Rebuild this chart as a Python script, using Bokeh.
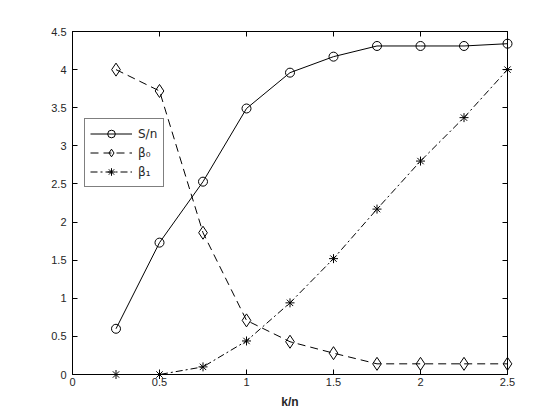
from bokeh.plotting import figure
from bokeh.models import LinearAxis, Range1d, FixedTicker, CustomJSTickFormatter, Legend
from bokeh.embed import file_html
from bokeh.resources import INLINE

k_n = [0.25, 0.5, 0.75, 1.0, 1.25, 1.5, 1.75, 2.0, 2.25, 2.5]
s_n = [0.60, 1.73, 2.53, 3.49, 3.96, 4.17, 4.31, 4.31, 4.31, 4.34]
beta0 = [4.00, 3.72, 1.86, 0.71, 0.43, 0.28, 0.14, 0.14, 0.14, 0.14]
beta1 = [0.00, 0.00, 0.10, 0.44, 0.94, 1.52, 2.17, 2.80, 3.37, 4.00]
x_ticks = [0, 0.5, 1, 1.5, 2, 2.5]
y_ticks = [0, 0.5, 1, 1.5, 2, 2.5, 3, 3.5, 4, 4.5]
x_label = "k/n"
labels = ["S/n", "\u03b2\u2080", "\u03b2\u2081"]

FONT = "Liberation Sans"

p = figure(width=552, height=412, output_backend="svg", toolbar_location=None,
           x_range=Range1d(0, 2.5), y_range=Range1d(0, 4.5),
           min_border_left=72, min_border_right=45, min_border_top=31, min_border_bottom=38)
p.background_fill_color = "white"
p.border_fill_color = "white"
p.outline_line_color = "black"
p.outline_line_width = 1
p.xgrid.visible = False
p.ygrid.visible = False

fmt = CustomJSTickFormatter(code="return String(Math.round(tick*100)/100);")

def style_axis(ax, ticks, show_labels=True):
    ax.ticker = FixedTicker(ticks=ticks)
    ax.formatter = fmt
    ax.axis_line_color = "black"
    ax.major_tick_line_color = "black"
    ax.major_tick_in = 5
    ax.major_tick_out = 0
    ax.minor_tick_line_color = None
    ax.major_label_text_font = FONT
    ax.major_label_text_font_size = "11px"
    ax.major_label_text_color = "#262626"
    if not show_labels:
        ax.major_label_text_font_size = "0px"
        ax.major_label_text_color = None

style_axis(p.xaxis[0], x_ticks)
style_axis(p.yaxis[0], y_ticks)
p.xaxis[0].major_label_standoff = 3
p.yaxis[0].major_label_standoff = 6
p.xaxis[0].axis_label = x_label
p.xaxis[0].axis_label_text_font = FONT
p.xaxis[0].axis_label_text_font_style = "bold"
p.xaxis[0].axis_label_text_font_size = "12px"
p.xaxis[0].axis_label_text_color = "#262626"
p.xaxis[0].axis_label_standoff = 6

top_ax = LinearAxis()
style_axis(top_ax, x_ticks, show_labels=False)
p.add_layout(top_ax, "above")
right_ax = LinearAxis()
style_axis(right_ax, y_ticks, show_labels=False)
p.add_layout(right_ax, "right")
top_ax.major_label_standoff = 0
right_ax.major_label_standoff = 0

r1l = p.line(k_n, s_n, line_color="black", line_width=1)
r1m = p.scatter(k_n, s_n, marker="circle", size=9, fill_color=None, line_color="black",
                line_width=1, level="overlay")
r2l = p.line(k_n, beta0, line_color="black", line_width=1, line_dash="8 5")
r2m = p.scatter(k_n, beta0, marker="diamond", size=13, fill_color=None, line_color="black",
                line_width=1, level="overlay")
r3l = p.line(k_n, beta1, line_color="black", line_width=1, line_dash="7 3 2 3")
r3m = p.scatter(k_n, beta1, marker="asterisk", size=9, fill_color=None, line_color="black",
                line_width=1, level="overlay")

legend = Legend(items=[(labels[0], [r1l, r1m]), (labels[1], [r2l, r2m]), (labels[2], [r3l, r3m])],
                location=(12, 187))
legend.border_line_color = "black"
legend.border_line_width = 1
legend.background_fill_color = "white"
legend.background_fill_alpha = 1
legend.label_text_font = "DejaVu Sans"
legend.label_text_font_size = "12px"
legend.label_text_color = "#262626"
legend.padding = 5
legend.spacing = 0
legend.margin = 0
legend.label_height = 19
legend.glyph_height = 19
legend.glyph_width = 42
legend.label_standoff = 6
p.add_layout(legend, "center")

open("out.html", "w").write(file_html(p, INLINE))
